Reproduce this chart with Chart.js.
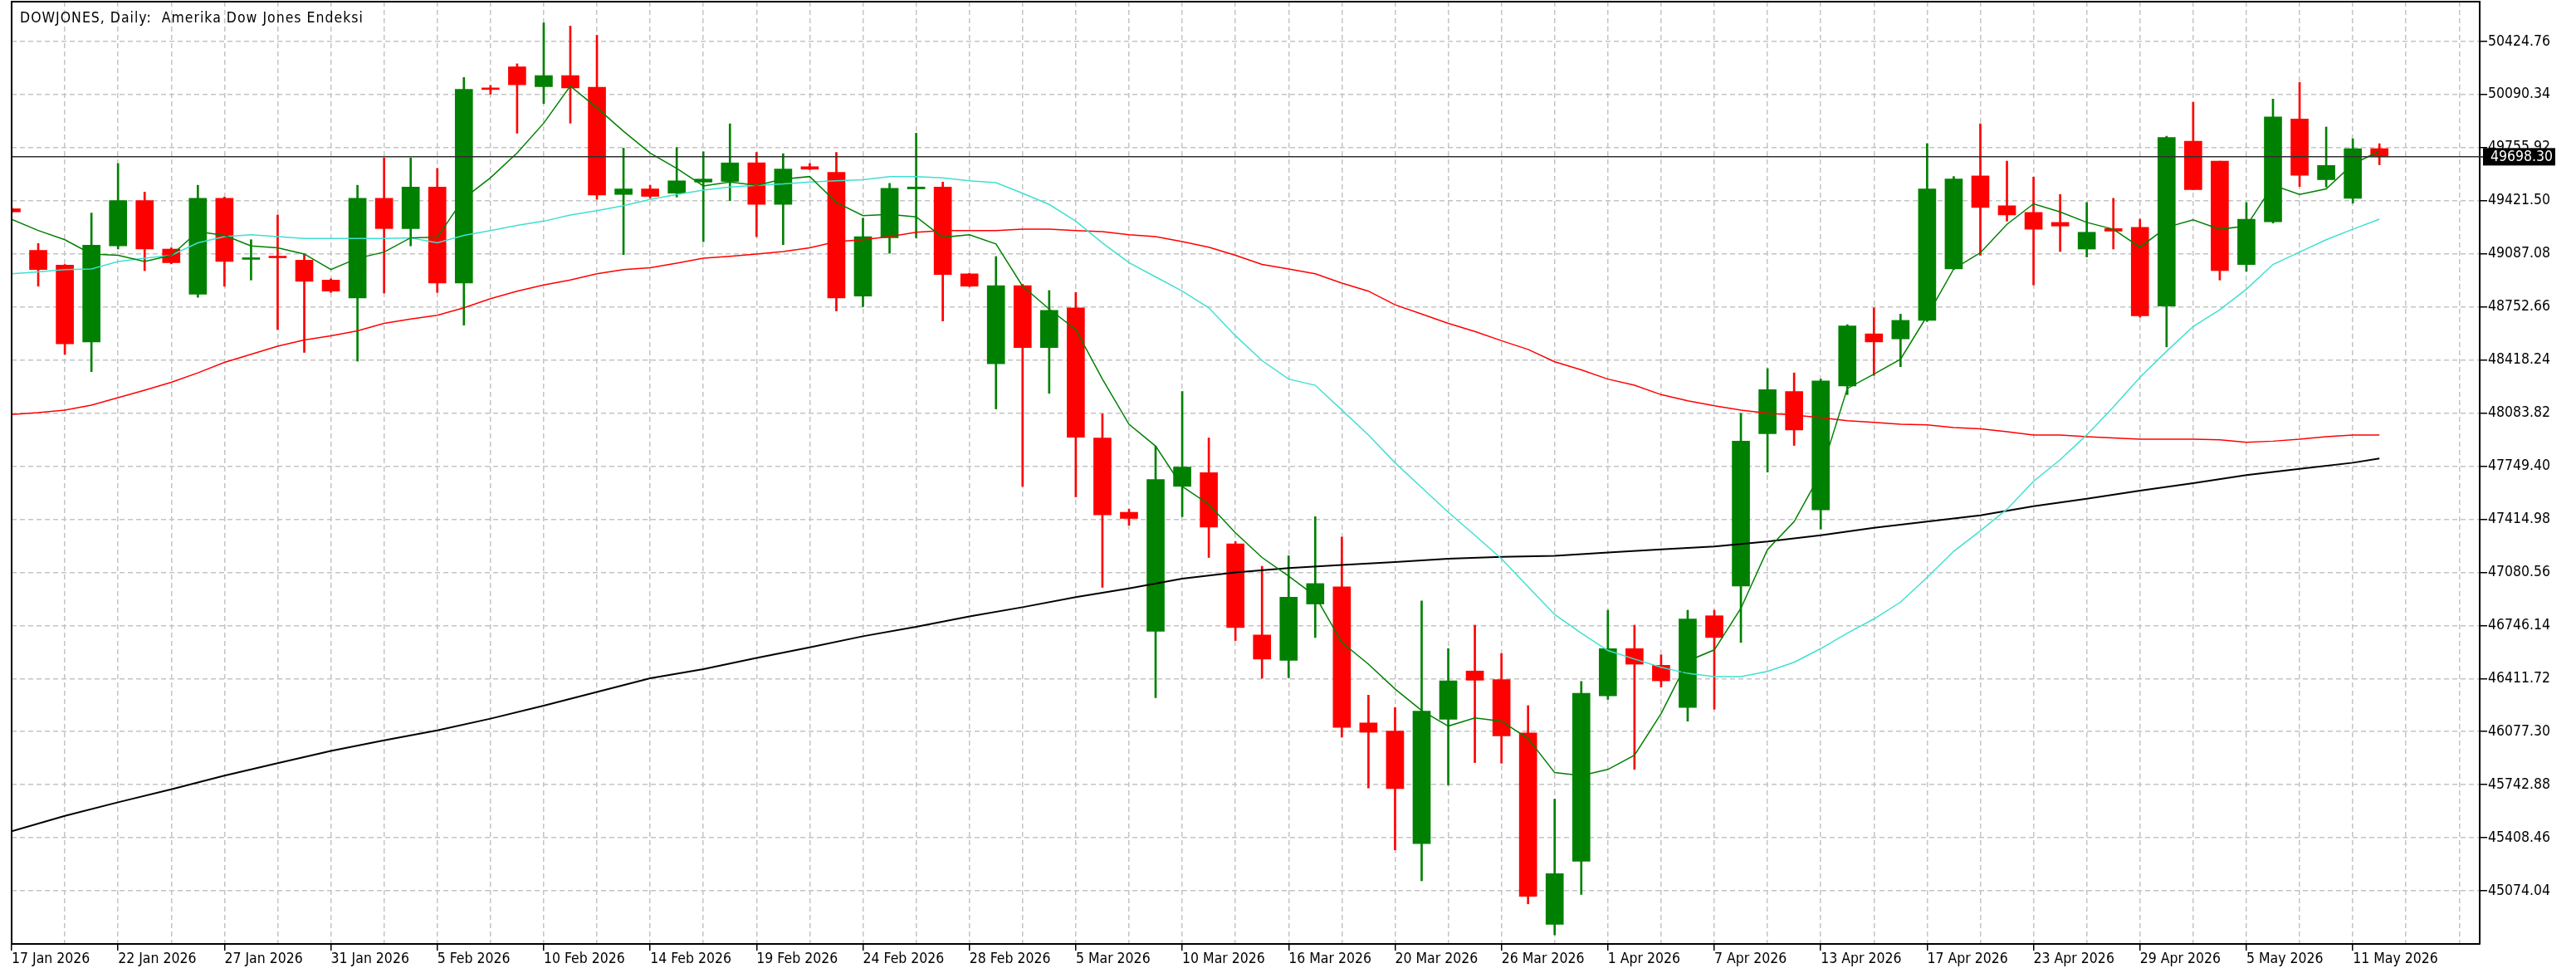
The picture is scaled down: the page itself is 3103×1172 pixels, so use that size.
<!DOCTYPE html>
<html><head><meta charset="utf-8">
<script src="https://cdn.jsdelivr.net/npm/chart.js@4.4.1/dist/chart.umd.min.js"></script>
<style>html,body{margin:0;padding:0;background:#fff;overflow:hidden}canvas{display:block}</style>
</head><body>
<canvas id="c" width="3103" height="1172"></canvas>
<script>
const chartTitle = 'DOWJONES, Daily:  Amerika Dow Jones Endeksi';
const dates = ['17 Jan 2026','19 Jan 2026','20 Jan 2026','21 Jan 2026','22 Jan 2026','23 Jan 2026','24 Jan 2026','26 Jan 2026','27 Jan 2026','28 Jan 2026',
 '29 Jan 2026','30 Jan 2026','31 Jan 2026','2 Feb 2026','3 Feb 2026','4 Feb 2026','5 Feb 2026','6 Feb 2026','7 Feb 2026','9 Feb 2026',
 '10 Feb 2026','11 Feb 2026','12 Feb 2026','13 Feb 2026','14 Feb 2026','16 Feb 2026','17 Feb 2026','18 Feb 2026','19 Feb 2026','20 Feb 2026',
 '21 Feb 2026','23 Feb 2026','24 Feb 2026','25 Feb 2026','26 Feb 2026','27 Feb 2026','28 Feb 2026','2 Mar 2026','3 Mar 2026','4 Mar 2026',
 '5 Mar 2026','6 Mar 2026','7 Mar 2026','9 Mar 2026','10 Mar 2026','11 Mar 2026','12 Mar 2026','13 Mar 2026','16 Mar 2026','17 Mar 2026',
 '18 Mar 2026','19 Mar 2026','20 Mar 2026','23 Mar 2026','24 Mar 2026','25 Mar 2026','26 Mar 2026','27 Mar 2026','30 Mar 2026','31 Mar 2026',
 '1 Apr 2026','2 Apr 2026','3 Apr 2026','6 Apr 2026','7 Apr 2026','8 Apr 2026','9 Apr 2026','10 Apr 2026','13 Apr 2026','14 Apr 2026',
 '15 Apr 2026','16 Apr 2026','17 Apr 2026','20 Apr 2026','21 Apr 2026','22 Apr 2026','23 Apr 2026','24 Apr 2026','27 Apr 2026','28 Apr 2026',
 '29 Apr 2026','30 Apr 2026','1 May 2026','4 May 2026','5 May 2026','6 May 2026','7 May 2026','8 May 2026','11 May 2026','12 May 2026'];
const opens = [49371,49109,49016,48532,49137,49422,49117,48832,49437,49052,
 49066,49047,48922,48809,49437,49246,49508,48903,50126,50265,
 50140,50210,50136,49461,49496,49469,49539,49543,49660,49398,
 49636,49601,48821,49188,49496,49508,48961,48395,48887,48497,
 48747,47927,47459,46709,47622,47708,47260,46686,46526,46881,
 46990,46132,46081,45371,46155,46459,46405,46069,44863,45261,
 46303,46600,46495,46229,46807,46994,47954,48220,47474,48255,
 48583,48551,48668,48992,49578,49390,49348,49285,49117,49246,
 49254,48758,49796,49671,49020,49289,49937,49554,49437,49750];
const highs = [49380,49152,49020,49344,49656,49476,49125,49519,49445,49176,
 49332,49086,48930,49519,49691,49691,49625,50198,50148,50284,
 50542,50522,50464,49753,49519,49757,49730,49906,49726,49718,
 49656,49726,49312,49531,49847,49539,48965,49070,48895,48856,
 48844,48079,47478,47876,48220,47927,47275,47119,47185,47431,
 47303,46307,46229,46901,46600,46748,46569,46241,45652,46393,
 46842,46748,46561,46842,46842,48083,48364,48337,48298,48641,
 48747,48707,49781,49574,49906,49671,49570,49461,49410,49437,
 49305,49828,50042,49671,49410,50062,50167,49886,49812,49781];
const lows = [49345,48883,48454,48345,49117,48981,49024,48813,48883,48922,
 48610,48466,48844,48411,48840,49137,48844,48637,50093,49847,
 50034,49910,49430,49082,49437,49445,49164,49422,49195,49145,
 49617,48727,48754,49090,49188,48664,48880,48110,47622,48208,
 47556,46986,47377,46291,47431,47174,46651,46413,46417,46670,
 46042,45722,45332,45137,45741,45882,45878,44992,44797,45051,
 46280,45839,46358,46143,46218,46639,47712,47880,47353,48200,
 48321,48376,48661,48988,49078,49293,48891,49102,49067,49117,
 48688,48501,49492,48922,48977,49281,49511,49508,49406,49648];
const closes = [49351,48988,48520,49141,49422,49117,49031,49437,49039,49058,
 49062,48914,48852,49437,49246,49508,48903,50124,50122,50152,
 50210,50132,49457,49496,49449,49547,49558,49660,49398,49621,
 49620,48809,49195,49500,49508,48957,48883,48887,48497,48731,
 47931,47443,47420,47665,47744,47365,46733,46534,46924,47010,
 46104,46073,45718,46206,46397,46401,46050,45039,45183,46319,
 46600,46502,46397,46787,46670,47907,48231,47978,48286,48633,
 48532,48668,49496,49558,49379,49332,49242,49262,49223,49230,
 48696,49820,49492,48981,49305,49949,49582,49644,49750,49698.30];
const maFast = [49305,49234,49176,49086,49078,49039,49078,49227,49203,49137,
 49125,49086,48988,49059,49098,49188,49191,49437,49566,49722,
 49910,50144,50007,49859,49722,49625,49515,49539,49519,49558,
 49574,49410,49328,49336,49320,49191,49207,49149,48883,48739,
 48610,48298,48013,47876,47622,47509,47330,47174,47057,46932,
 46639,46502,46346,46210,46112,46163,46143,46034,45819,45800,
 45839,45928,46190,46522,46592,46854,47224,47400,47704,48239,
 48329,48423,48696,48992,49094,49273,49402,49351,49285,49242,
 49129,49254,49301,49242,49262,49519,49461,49496,49652,49734];
const maMid = [48961,48973,48988,48992,49039,49059,49078,49156,49195,49207,
 49195,49184,49184,49184,49184,49188,49156,49203,49234,49266,
 49293,49332,49359,49390,49429,49461,49488,49508,49519,49527,
 49539,49547,49554,49574,49574,49566,49547,49535,49469,49398,
 49293,49156,49031,48942,48852,48747,48571,48415,48298,48259,
 48103,47946,47771,47615,47459,47314,47166,46990,46815,46698,
 46588,46534,46483,46444,46424,46424,46456,46514,46600,46698,
 46787,46893,47049,47213,47342,47478,47654,47790,47946,48122,
 48309,48473,48629,48735,48864,49020,49098,49176,49242,49305];
const maSlow = [48075,48087,48103,48134,48181,48228,48278,48337,48403,48454,
 48505,48544,48571,48602,48649,48676,48700,48747,48805,48852,
 48891,48922,48961,48988,49000,49028,49059,49071,49086,49102,
 49125,49164,49176,49195,49223,49234,49234,49234,49242,49242,
 49234,49227,49207,49195,49164,49129,49078,49020,48992,48961,
 48903,48852,48766,48708,48649,48598,48540,48485,48407,48356,
 48298,48259,48200,48161,48130,48103,48083,48071,48056,48036,
 48025,48013,48009,47993,47985,47966,47946,47946,47935,47927,
 47919,47919,47919,47915,47900,47907,47919,47935,47946,47946];
const maLong = [45449,null,45546,null,45632,null,45714,null,45800,null,
 45878,null,45956,null,46022,null,46085,null,46159,null,
 46241,null,46327,null,46413,null,46471,null,46541,null,
 46608,null,46678,null,46737,null,46803,null,46861,null,
 46924,null,46979,null,47041,null,47080,null,47108,null,
 47127,null,47146,null,47166,null,47178,null,47185,null,
 47205,null,47225,null,47244,null,47275,null,47314,null,
 47361,null,47400,null,47439,null,47497,null,47544,null,
 47595,null,47642,null,47693,null,47732,null,47771,47798];
const yTickLabels = ['45074.04','45408.46','45742.88','46077.30','46411.72','46746.14','47080.56','47414.98',
 '47749.40','48083.82','48418.24','48752.66','49087.08','49421.50','49755.92','50090.34','50424.76'];
const lastPrice = 49698.30;
const lastPriceLabel = '49698.30';

const FONT = "Tahoma, 'DejaVu Sans Condensed', 'Liberation Sans', sans-serif";
const FSIZE = 17.5;
const GREEN = '#008000', RED = '#ff0000';
const yTickValues = yTickLabels.map(Number);
const xTickValues = [];
for (let i = 0; i <= 92; i += 2) xTickValues.push(i);

const candleColors = opens.map((o, i) => closes[i] >= o ? GREEN : RED);
const wickData = lows.map((l, i) => ({x: i, y: [l, highs[i]]}));
const bodyData = opens.map((o, i) => ({x: i, y: [o, closes[i]]}));
const toXY = arr => arr.map((v, i) => v === null ? null : {x: i, y: v}).filter(p => p);

const overlay = {
  id: 'overlay',
  beforeDraw(chart) {
    const c = chart.ctx; c.save(); c.fillStyle = '#fff'; c.fillRect(0, 0, chart.width, chart.height); c.restore();
  },
  afterDatasetsDraw(chart) {
    const c = chart.ctx, a = chart.chartArea, py = chart.scales.y.getPixelForValue(lastPrice);
    c.save();
    c.strokeStyle = '#303030'; c.lineWidth = 1.5;
    c.beginPath(); c.moveTo(a.left, py); c.lineTo(a.right + 4, py); c.stroke();
    c.restore();
  },
  afterDraw(chart) {
    const c = chart.ctx, a = chart.chartArea, py = chart.scales.y.getPixelForValue(lastPrice);
    c.save();
    c.strokeStyle = '#000'; c.lineWidth = 2;
    c.beginPath(); c.moveTo(a.left, a.bottom); c.lineTo(a.left, a.top); c.lineTo(a.right, a.top); c.stroke();
    c.strokeStyle = '#303030'; c.lineWidth = 1.5;
    c.beginPath(); c.moveTo(a.right, py); c.lineTo(a.right + 4, py); c.stroke();
    c.fillStyle = '#000';
    c.fillRect(a.right + 4, py - 10.5, 87, 21);
    c.font = FSIZE + 'px ' + FONT;
    c.fillStyle = '#fff'; c.textBaseline = 'middle'; c.textAlign = 'left';
    c.fillText(lastPriceLabel, a.right + 13, py + 0.5);
    c.fillStyle = '#000'; c.textBaseline = 'alphabetic';
    try { c.letterSpacing = '1px'; } catch (e) {}
    c.fillText(chartTitle, 24, 26.5);
    c.restore();
  }
};

new Chart(document.getElementById('c'), {
  type: 'bar',
  data: {
    datasets: [
      {type: 'line', data: toXY(maFast), borderColor: '#008000', borderWidth: 1.5, pointRadius: 0, tension: 0, order: 1},
      {type: 'line', data: toXY(maMid), borderColor: '#40e0d0', borderWidth: 1.5, pointRadius: 0, tension: 0, order: 1},
      {type: 'line', data: toXY(maSlow), borderColor: '#ff0000', borderWidth: 1.5, pointRadius: 0, tension: 0, order: 1},
      {type: 'line', data: toXY(maLong), borderColor: '#000000', borderWidth: 2, pointRadius: 0, tension: 0, spanGaps: true, order: 1},
      {type: 'bar', data: bodyData, backgroundColor: candleColors, borderWidth: 0, barThickness: 21, minBarLength: 2, grouped: false, order: 2},
      {type: 'bar', data: wickData, backgroundColor: candleColors, borderWidth: 0, barThickness: 2, grouped: false, order: 3}
    ]
  },
  options: {
    responsive: false, animation: false, devicePixelRatio: 1,
    layout: {padding: {left: 14, top: 2, right: 0, bottom: 0}},
    plugins: {legend: {display: false}, tooltip: {enabled: false}, title: {display: false}},
    scales: {
      x: {
        type: 'linear', position: 'bottom', min: 0, max: 92.77, offset: false,
        afterBuildTicks: s => { s.ticks = xTickValues.map(v => ({value: v})); },
        afterFit: s => { s.height = 35; s.paddingLeft = 0; s.paddingRight = 0; },
        grid: {
          offset: false, color: '#c4c4c4', lineWidth: 1.5, drawTicks: true, tickLength: 8,
          tickColor: ctx => (ctx.tick && ctx.tick.value % 4 === 0 && ctx.tick.value < dates.length) ? '#000' : 'rgba(0,0,0,0)',
          tickWidth: 1.5, tickBorderDash: []
        },
        border: {display: true, color: '#000', width: 2, dash: [6, 4]},
        ticks: {
          autoSkip: false, maxRotation: 0, minRotation: 0, align: 'start', padding: 0, color: '#000',
          font: {family: FONT, size: FSIZE, lineHeight: 1.2},
          callback: v => (v % 4 === 0 && v < dates.length) ? dates[v] : ''
        }
      },
      y: {
        type: 'linear', position: 'right', min: 44739.62, max: 50675.6,
        afterBuildTicks: s => { s.ticks = yTickValues.map(v => ({value: v})); },
        afterFit: s => { s.width = 116; s.paddingTop = 0; s.paddingBottom = 0; },
        grid: {color: '#c4c4c4', lineWidth: 1.5, drawTicks: true, tickLength: 9, tickColor: '#000', tickWidth: 1.5, tickBorderDash: []},
        border: {display: true, color: '#000', width: 2, dash: [6, 4]},
        ticks: {
          padding: 1, color: '#000', font: {family: FONT, size: FSIZE},
          callback: v => v.toFixed(2)
        }
      }
    }
  },
  plugins: [overlay]
});
</script>
</body></html>
